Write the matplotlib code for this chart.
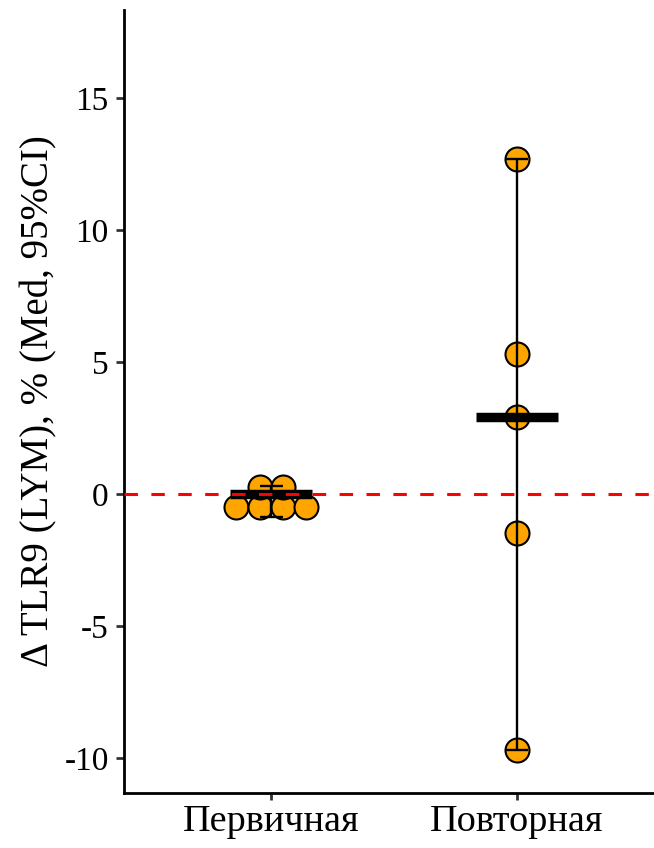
import numpy as np
import matplotlib
matplotlib.use("Agg")
import matplotlib.pyplot as plt

# Groups and per-patient changes
groups = ["Первичная", "Повторная"]
values_primary = [-0.84, -0.60, -0.30, -0.12, 0.22, 0.31]
values_repeat = [-9.7, -1.5, 2.9, 5.3, 12.7]
# Summary: median and 95% CI
medians = [0.0, 2.9]
ci_low = [-0.86, -9.7]
ci_high = [0.31, 12.7]

ylim = (-11.33, 18.33)
xlim = (0.4, 2.6)
yticks = [-10, -5, 0, 5, 10, 15]
ytick_labels = ["-10", "-5", "0", "5", "10", "15"]

W, H, DPI = 654, 848, 100
fig = plt.figure(figsize=(W / DPI, H / DPI), dpi=DPI)
ax_left, ax_right = 124 / W, 663.7 / W
ax_bottom, ax_top = (H - 793) / H, (H - 10) / H
ax = fig.add_axes([ax_left, ax_bottom, ax_right - ax_left, ax_top - ax_bottom])
ax.set_xlim(*xlim)
ax.set_ylim(*ylim)

plt.rcParams["font.family"] = ["Liberation Serif", "DejaVu Serif"]
serif = ["Liberation Serif", "DejaVu Serif"]

# pixel scale of the x axis, used to stack dots side by side
px_per_x = (ax_right - ax_left) * W / (xlim[1] - xlim[0])
dot_px = 23.3
binwidth = (max(values_repeat + values_primary) - min(values_repeat + values_primary)) / 30


def dot_positions(vals, center):
    """Dot-density binning along y, stacking dots centred horizontally."""
    vals = sorted(vals)
    bins = []
    cur = [vals[0]]
    for v in vals[1:]:
        if v - cur[0] < binwidth:
            cur.append(v)
        else:
            bins.append(cur)
            cur = [v]
    bins.append(cur)
    xs, ys = [], []
    for b in bins:
        yc = (min(b) + max(b)) / 2
        n = len(b)
        for k in range(n):
            off = (k - (n - 1) / 2) * dot_px / px_per_x
            xs.append(center + off)
            ys.append(yc)
    return xs, ys


dot_size = (24 * 72 / DPI) ** 2
for i, vals in enumerate([values_primary, values_repeat]):
    xs, ys = dot_positions(vals, i + 1)
    ax.scatter(xs, ys, s=dot_size, facecolor="#FFA500", edgecolor="black",
               linewidth=1.5, zorder=2)

# CI whiskers with small caps
cap_half = 11.5 / px_per_x
for i in range(len(groups)):
    x = i + 1
    ax.vlines(x, ci_low[i], ci_high[i], color="black", lw=1.7, zorder=3)
    ax.hlines([ci_low[i], ci_high[i]], x - cap_half, x + cap_half,
              color="black", lw=1.7, zorder=3)

# median bars
bar_half = 41 / px_per_x
for i in range(len(groups)):
    x = i + 1
    ax.plot([x - bar_half, x + bar_half], [medians[i], medians[i]],
            color="black", lw=6.8, solid_capstyle="butt", zorder=4)

# reference line at zero
ax.axhline(0, color="#FF0000", lw=2.2, linestyle=(0, (4.4, 4.4)), zorder=5)

for side in ["top", "right"]:
    ax.spines[side].set_visible(False)
for side in ["left", "bottom"]:
    ax.spines[side].set_linewidth(2.0)
    ax.spines[side].set_color("black")

ax.set_yticks(yticks)
ax.set_yticklabels(ytick_labels, family=serif, fontsize=24)
ax.set_xticks([1, 2])
ax.set_xticklabels(groups, family=serif, fontsize=27.5)
ax.tick_params(axis="y", length=6, width=2.0, color="#333333", pad=5)
ax.tick_params(axis="x", length=5, width=2.0, color="#333333", pad=3)

ax.set_ylabel("Δ TLR9 (LYM), % (Med, 95%CI)", family=serif, fontsize=28,
              labelpad=5)

fig.savefig("out.png", dpi=DPI)
